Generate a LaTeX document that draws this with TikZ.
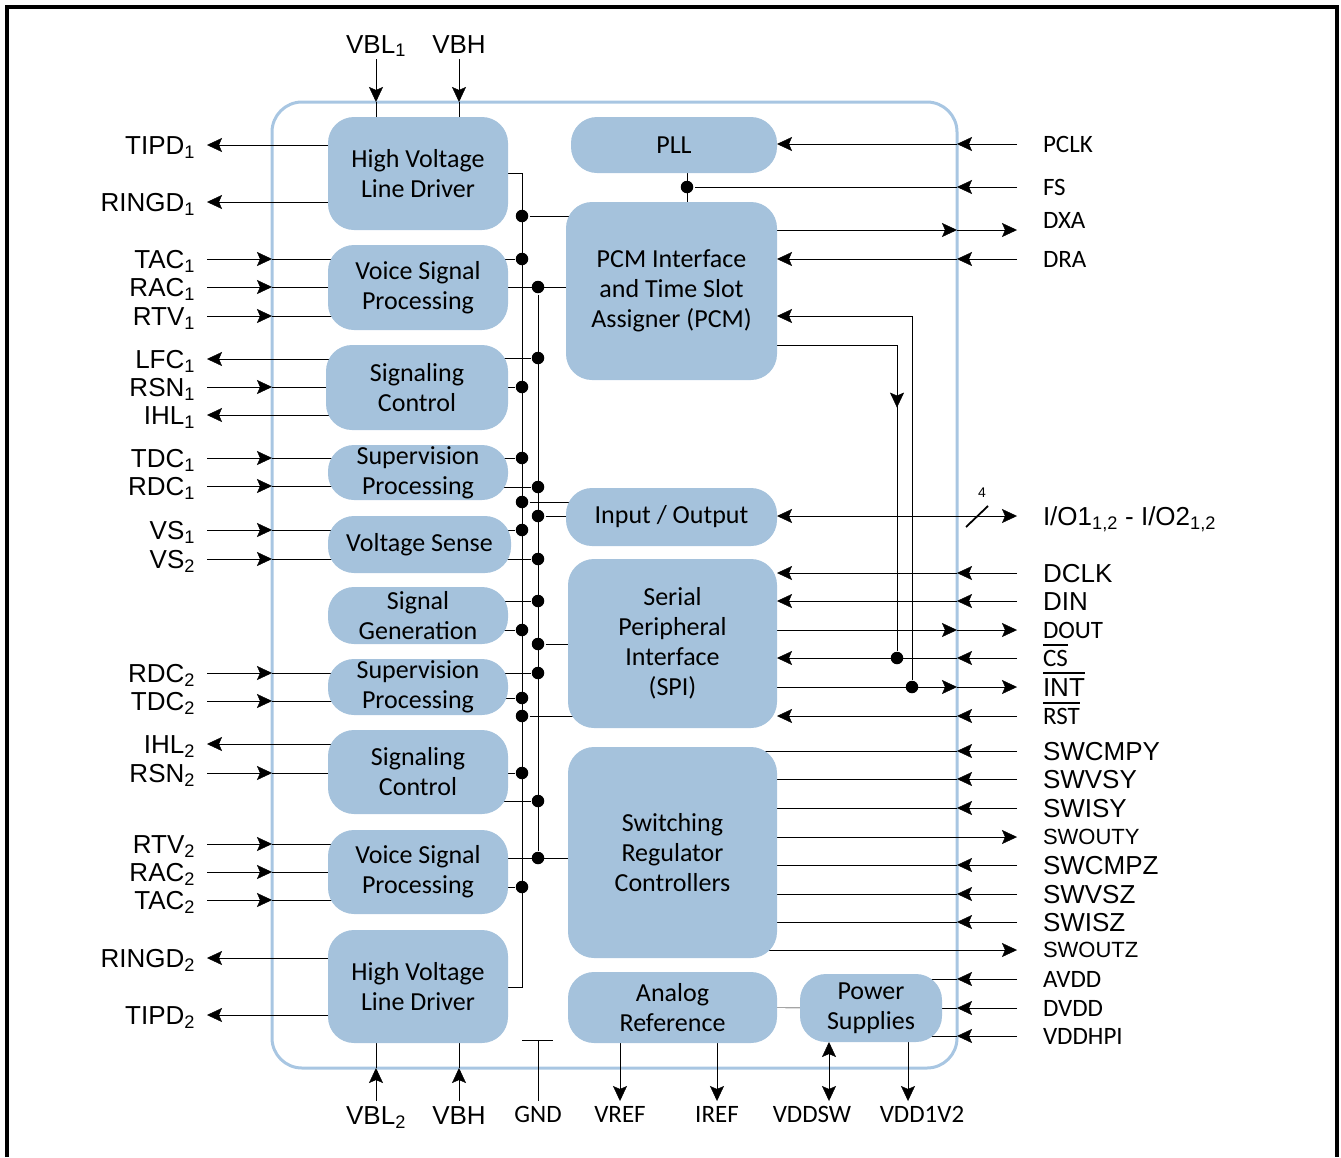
\documentclass[tikz,border=0pt]{standalone}
\usepackage{fontspec}
\setmainfont{Carlito}
\newfontfamily\arialfont{Liberation Sans}
\usetikzlibrary{arrows.meta,backgrounds,calc}
\definecolor{blkblue}{RGB}{165,194,220}
\definecolor{chipblue}{RGB}{168,198,226}
\newcommand{\ovl}[1]{\leavevmode\vbox{\hrule height 2pt\kern 4pt\hbox{#1}}}

\begin{document}
\begin{tikzpicture}[x=1pt,y=-1pt,line width=2.5pt,
        blk/.style={fill=blkblue, rounded corners=26pt, align=center, inner sep=0pt, outer sep=0pt, font=\fontsize{26}{30}\selectfont},
        chip/.style={draw=chipblue, line width=3pt, rounded corners=30pt, inner sep=0pt, outer sep=0pt},
        dot/.style={circle, fill=black, inner sep=0pt, minimum size=12.5pt},
        arr/.style={-{Stealth[length=15pt,width=14pt,inset=3pt]}},
        arrs/.style={{Stealth[length=15pt,width=14pt,inset=3pt]}-{Stealth[length=15pt,width=14pt,inset=3pt]}},
        lft/.style={anchor=east, inner xsep=12pt, inner ysep=0pt, outer sep=0pt, text depth=0pt, text height=18.6pt, font=\arialfont\fontsize{26}{30}\selectfont},
        rgt/.style={anchor=west, inner xsep=26pt, inner ysep=0pt, outer sep=0pt, text depth=0pt},
        upl/.style={anchor=south, inner xsep=0pt, inner ysep=6pt, outer sep=0pt, text depth=0pt, font=\arialfont\fontsize{26}{30}\selectfont},
        bot/.style={anchor=north, inner xsep=0pt, inner ysep=5pt, outer sep=0pt, text depth=0pt},
        cal/.style={font=\fontsize{25}{30}\selectfont, text height=16pt},
        ari/.style={font=\arialfont\fontsize{26}{30}\selectfont, text height=18.6pt},
        swo/.style={font=\arialfont\fontsize{22}{26}\selectfont, text height=15.8pt}]
        \useasboundingbox (0,0) rectangle (1341,1157);
        \draw[line width=3.5pt] (7,1157) -- (7,7) -- (1337,7) -- (1337,1157);

        \node[blk, minimum width=180pt, minimum height=113pt] (hvld1) at (418,173.5) {High Voltage\\Line Driver};
        \node[blk, minimum width=180pt, minimum height=85pt] (vsp1) at (418,287.5) {Voice Signal\\Processing};
        \node[blk, minimum width=182pt, minimum height=85pt] (sc1) at (417,387.5) {Signaling\\Control};
        \node[blk, minimum width=180pt, minimum height=55pt] (sup1) at (418,472.5) {Supervision\\Processing};
        \node[blk, minimum width=183pt, minimum height=57pt] (vs) at (419.5,544.5) {Voltage Sense};
        \node[blk, minimum width=180pt, minimum height=57pt] (sg) at (418,615.5) {Signal\\Generation};
        \node[blk, minimum width=180pt, minimum height=56pt] (sup2) at (418,687) {Supervision\\Processing};
        \node[blk, minimum width=180pt, minimum height=84pt] (sc2) at (418,772) {Signaling\\Control};
        \node[blk, minimum width=180pt, minimum height=84pt] (vsp2) at (418,872) {Voice Signal\\Processing};
        \node[blk, minimum width=180pt, minimum height=113pt] (hvld2) at (418,986.5) {High Voltage\\Line Driver};
        \node[blk, minimum width=206pt, minimum height=56pt] (pll) at (674,145) {PLL};
        \node[blk, minimum width=211pt, minimum height=178pt] (pcm) at (671.5,291) {PCM Interface\\and Time Slot\\Assigner (PCM)};
        \node[blk, minimum width=211pt, minimum height=58pt] (io) at (671.5,517) {Input / Output};
        \node[blk, minimum width=209pt, minimum height=169pt] (spi) at (672.5,643.5) {Serial\\Peripheral\\Interface\\(SPI)};
        \node[blk, minimum width=209pt, minimum height=211pt] (src) at (672.5,852.5) {Switching\\Regulator\\Controllers};
        \node[blk, minimum width=209pt, minimum height=71pt] (aref) at (672.5,1007.5) {Analog\\Reference};
        \node[blk, minimum width=142pt, minimum height=68pt] (ps) at (871,1008) {Power\\Supplies};

        \node[lft] (tipd1) at (207,145) {TIPD\textsubscript{1}};
        \node[lft] (ringd1) at (207,202) {RINGD\textsubscript{1}};
        \node[lft] (tac1) at (207,259) {TAC\textsubscript{1}};
        \node[lft] (rac1) at (207,287) {RAC\textsubscript{1}};
        \node[lft] (rtv1) at (207,316) {RTV\textsubscript{1}};
        \node[lft] (lfc1) at (207,359) {LFC\textsubscript{1}};
        \node[lft] (rsn1) at (207,387) {RSN\textsubscript{1}};
        \node[lft] (ihl1) at (207,415) {IHL\textsubscript{1}};
        \node[lft] (tdc1) at (207,458) {TDC\textsubscript{1}};
        \node[lft] (rdc1) at (207,486) {RDC\textsubscript{1}};
        \node[lft] (vs1) at (207,530) {VS\textsubscript{1}};
        \node[lft] (vs2) at (207,559) {VS\textsubscript{2}};
        \node[lft] (rdc2) at (207,673) {RDC\textsubscript{2}};
        \node[lft] (tdc2) at (207,701) {TDC\textsubscript{2}};
        \node[lft] (ihl2) at (207,744) {IHL\textsubscript{2}};
        \node[lft] (rsn2) at (207,773) {RSN\textsubscript{2}};
        \node[lft] (rtv2) at (207,844) {RTV\textsubscript{2}};
        \node[lft] (rac2) at (207,872) {RAC\textsubscript{2}};
        \node[lft] (tac2) at (207,900) {TAC\textsubscript{2}};
        \node[lft] (ringd2) at (207,958) {RINGD\textsubscript{2}};
        \node[lft] (tipd2) at (207,1015) {TIPD\textsubscript{2}};

        \node[rgt,cal] (pclk) at (1017,144) {PCLK};
        \node[rgt,cal] (fs) at (1017,187) {FS};
        \node[rgt,cal] (dxa) at (1017,220) {DXA};
        \node[rgt,cal] (dra) at (1017,259) {DRA};
        \node[rgt,ari] (iolbl) at (1017,516) {I/O1\textsubscript{1,2} - I/O2\textsubscript{1,2}};
        \node[rgt,ari] (dclk) at (1017,573) {DCLK};
        \node[rgt,ari] (din) at (1017,601) {DIN};
        \node[rgt,cal] (dout) at (1017,630) {DOUT};
        \node[rgt,cal] (cs) at (1017,658) {\ovl{CS}};
        \node[rgt,ari] (int) at (1017,687) {\ovl{INT}};
        \node[rgt,cal] (rst) at (1017,716) {\ovl{RST}};
        \node[rgt,ari] (swcmpy) at (1017,751) {SWCMPY};
        \node[rgt,ari] (swvsy) at (1017,779) {SWVSY};
        \node[rgt,ari] (swisy) at (1017,808) {SWISY};
        \node[rgt,swo] (swouty) at (1017,837) {SWOUTY};
        \node[rgt,ari] (swcmpz) at (1017,865) {SWCMPZ};
        \node[rgt,ari] (swvsz) at (1017,894) {SWVSZ};
        \node[rgt,ari] (swisz) at (1017,922) {SWISZ};
        \node[rgt,swo] (swoutz) at (1017,950) {SWOUTZ};
        \node[rgt,cal] (avdd) at (1017,979) {AVDD};
        \node[rgt,cal] (dvdd) at (1017,1008) {DVDD};
        \node[rgt,cal] (vddhpi) at (1017,1036) {VDDHPI};

        \node[upl] (vbl1) at (376,59) {VBL\textsubscript{1}};
        \node[upl] (vbh1) at (459,59) {VBH};
        \node[bot,ari] (vbl2) at (376,1101) {VBL\textsubscript{2}};
        \node[bot,ari] (vbh2) at (459,1101) {VBH};
        \node[bot,cal] (gnd) at (538,1101) {GND};
        \node[bot,cal] (vref) at (620,1101) {VREF};
        \node[bot,cal] (iref) at (717,1101) {IREF};
        \node[bot,cal] (vddsw) at (812,1101) {VDDSW};
        \node[bot,cal] (vdd1v2) at (922,1101) {VDD1V2};
        \node[font=\arialfont\fontsize{14}{14}\selectfont, inner sep=0pt] (bw) at (982,493) {4};

        \node[dot] (j1) at (522,216) {};
        \node[dot] (j2) at (522,259) {};
        \node[dot] (j3) at (538,287) {};
        \node[dot] (j4) at (538,358) {};
        \node[dot] (j5) at (522,387) {};
        \node[dot] (j6) at (522,458) {};
        \node[dot] (j7) at (538,487) {};
        \node[dot] (j8) at (522,502) {};
        \node[dot] (j9) at (538,516) {};
        \node[dot] (j10) at (522,530) {};
        \node[dot] (j11) at (538,559) {};
        \node[dot] (j12) at (538,601) {};
        \node[dot] (j13) at (522,630) {};
        \node[dot] (j14) at (538,644) {};
        \node[dot] (j15) at (538,673) {};
        \node[dot] (j16) at (522,698) {};
        \node[dot] (j17) at (522,716) {};
        \node[dot] (j18) at (522,773) {};
        \node[dot] (j19) at (538,801) {};
        \node[dot] (j20) at (538,858) {};
        \node[dot] (j21) at (522,887) {};
        \node[dot] (fsdot) at (687,187) {};
        \node[dot] (csdot) at (897,658) {};
        \node[dot] (intdot) at (912,687) {};

        \coordinate (b1top) at (522,173);
        \coordinate (b1bot) at (522,987);
        \coordinate (dxaend) at (1017,230);
        \coordinate (pcmout) at (897,345);
        \coordinate (pcmin) at (912,316);
        \coordinate (slash) at (977,516);
        \coordinate (gndtop) at (538,1040);
        \coordinate (vddswend) at (829,1101);
        \coordinate (vddend) at (908,1101);

        \begin{pgfonlayer}{background}
        \node[chip, minimum width=685pt, minimum height=966pt] (chip) at (614.5,585) {};

        \draw[arr] (hvld1 |- tipd1) -- (tipd1.east);
        \draw[arr] (hvld1 |- ringd1) -- (ringd1.east);
        \draw[arr] (tac1.east) -- (chip.west |- tac1);
        \draw (chip.west |- tac1) -- (vsp1 |- tac1);
        \draw[arr] (rac1.east) -- (chip.west |- rac1);
        \draw (chip.west |- rac1) -- (vsp1 |- rac1);
        \draw[arr] (rtv1.east) -- (chip.west |- rtv1);
        \draw (chip.west |- rtv1) -- (vsp1 |- rtv1);
        \draw[arr] (sc1 |- lfc1) -- (lfc1.east);
        \draw[arr] (rsn1.east) -- (chip.west |- rsn1);
        \draw (chip.west |- rsn1) -- (sc1 |- rsn1);
        \draw[arr] (sc1 |- ihl1) -- (ihl1.east);
        \draw[arr] (tdc1.east) -- (chip.west |- tdc1);
        \draw (chip.west |- tdc1) -- (sup1 |- tdc1);
        \draw[arr] (rdc1.east) -- (chip.west |- rdc1);
        \draw (chip.west |- rdc1) -- (sup1 |- rdc1);
        \draw[arr] (vs1.east) -- (chip.west |- vs1);
        \draw (chip.west |- vs1) -- (vs |- vs1);
        \draw[arr] (vs2.east) -- (chip.west |- vs2);
        \draw (chip.west |- vs2) -- (vs |- vs2);
        \draw[arr] (rdc2.east) -- (chip.west |- rdc2);
        \draw (chip.west |- rdc2) -- (sup2 |- rdc2);
        \draw[arr] (tdc2.east) -- (chip.west |- tdc2);
        \draw (chip.west |- tdc2) -- (sup2 |- tdc2);
        \draw[arr] (sc2 |- ihl2) -- (ihl2.east);
        \draw[arr] (rsn2.east) -- (chip.west |- rsn2);
        \draw (chip.west |- rsn2) -- (sc2 |- rsn2);
        \draw[arr] (rtv2.east) -- (chip.west |- rtv2);
        \draw (chip.west |- rtv2) -- (vsp2 |- rtv2);
        \draw[arr] (rac2.east) -- (chip.west |- rac2);
        \draw (chip.west |- rac2) -- (vsp2 |- rac2);
        \draw[arr] (tac2.east) -- (chip.west |- tac2);
        \draw (chip.west |- tac2) -- (vsp2 |- tac2);
        \draw[arr] (hvld2 |- ringd2) -- (ringd2.east);
        \draw[arr] (hvld2 |- tipd2) -- (tipd2.east);

        \draw (hvld1 |- b1top) -- (b1top) -- (b1bot) -- (hvld2 |- b1bot);
        \draw (j3) -- (j20);
        \draw (j1) -- (pcm |- j1);
        \draw (vsp1 |- j2) -- (j2);
        \draw (vsp1 |- j3) -- (pcm |- j3);
        \draw (sc1 |- j4) -- (j4);
        \draw (sc1 |- j5) -- (j5);
        \draw (sup1 |- j6) -- (j6);
        \draw (sup1 |- j7) -- (j7);
        \draw (j8) -- (io |- j8);
        \draw (j9) -- (io |- j9);
        \draw (vs |- j10) -- (j10);
        \draw (vs |- j11) -- (j11);
        \draw (sg |- j12) -- (j12);
        \draw (sg |- j13) -- (j13);
        \draw (j14) -- (spi |- j14);
        \draw (sup2 |- j15) -- (j15);
        \draw (sup2 |- j16) -- (j16);
        \draw (j17) -- (spi |- j17);
        \draw (sc2 |- j18) -- (j18);
        \draw (sc2 |- j19) -- (j19);
        \draw (vsp2 |- j20) -- (src |- j20);
        \draw (vsp2 |- j21) -- (j21);

        \draw[arr] (vbl1.south) -- (vbl1 |- chip.north);
        \draw (vbl1 |- chip.north) -- (vbl1 |- hvld1);
        \draw[arr] (vbh1.south) -- (vbh1 |- chip.north);
        \draw (vbh1 |- chip.north) -- (vbh1 |- hvld1);
        \draw[arr] (vbl2.north) -- (vbl2 |- chip.south);
        \draw (vbl2 |- chip.south) -- (vbl2 |- hvld2);
        \draw[arr] (vbh2.north) -- (vbh2 |- chip.south);
        \draw (vbh2 |- chip.south) -- (vbh2 |- hvld2);
        \draw (gnd.north) -- (gndtop);
        \draw ([xshift=-16pt]gndtop) -- ([xshift=15pt]gndtop);
        \draw[arr] (vref |- aref) -- (vref.north);
        \draw[arr] (iref |- aref) -- (iref.north);
        \draw[arrs] (vddswend |- ps.south) -- (vddswend);
        \draw[arr] (vddend |- ps) -- (vddend);
        \draw (aref) -- (ps);

        \draw[arr] (pclk.west) -- (chip.east |- pclk);
        \draw[arr] (chip.east |- pclk) -- (pll.east |- pclk);
        \draw[arr] (fs.west) -- (chip.east |- fs);
        \draw (chip.east |- fs) -- (fsdot);
        \draw (fsdot |- pll) -- (fsdot |- pcm);
        \draw[arr] (pcm |- dxaend) -- (chip.east |- dxaend);
        \draw[arr] (chip.east |- dxaend) -- (dxaend);
        \draw[arr] (dra.west) -- (chip.east |- dra);
        \draw[arr] (chip.east |- dra) -- (pcm.east |- dra);
        \draw (pcm |- pcmout) -- (pcmout) -- (csdot);
        \draw[arr] (pcmout) -- ($(pcmout)!0.2!(csdot)$);
        \draw (intdot) -- (pcmin);
        \draw[arr] (pcmin) -- (pcm.east |- pcmin);
        \draw[arrs] (io.east |- iolbl) -- (iolbl.west);
        \draw[line width=1.8pt] ([shift={(-11,11)}]slash) -- ([shift={(11,-10)}]slash);
        \draw[arr] (dclk.west) -- (chip.east |- dclk);
        \draw[arr] (chip.east |- dclk) -- (spi.east |- dclk);
        \draw[arr] (din.west) -- (chip.east |- din);
        \draw[arr] (chip.east |- din) -- (spi.east |- din);
        \draw[arr] (spi |- dout) -- (chip.east |- dout);
        \draw[arr] (chip.east |- dout) -- (dout.west);
        \draw[arr] (cs.west) -- (chip.east |- cs);
        \draw[arr] (chip.east |- cs) -- (spi.east |- cs);
        \draw[arr] (spi |- int) -- (chip.east |- int);
        \draw[arr] (chip.east |- int) -- (int.west);
        \draw[arr] (rst.west) -- (chip.east |- rst);
        \draw[arr] (chip.east |- rst) -- (spi.east |- rst);
        \draw[arr] (swcmpy.west) -- (chip.east |- swcmpy);
        \draw (chip.east |- swcmpy) -- (src |- swcmpy);
        \draw[arr] (swvsy.west) -- (chip.east |- swvsy);
        \draw (chip.east |- swvsy) -- (src |- swvsy);
        \draw[arr] (swisy.west) -- (chip.east |- swisy);
        \draw (chip.east |- swisy) -- (src |- swisy);
        \draw[arr] (src |- swouty) -- (swouty.west);
        \draw[arr] (swcmpz.west) -- (chip.east |- swcmpz);
        \draw (chip.east |- swcmpz) -- (src |- swcmpz);
        \draw[arr] (swvsz.west) -- (chip.east |- swvsz);
        \draw (chip.east |- swvsz) -- (src |- swvsz);
        \draw[arr] (swisz.west) -- (chip.east |- swisz);
        \draw (chip.east |- swisz) -- (src |- swisz);
        \draw[arr] (src |- swoutz) -- (swoutz.west);
        \draw[arr] (avdd.west) -- (chip.east |- avdd);
        \draw (chip.east |- avdd) -- (ps |- avdd);
        \draw[arr] (dvdd.west) -- (chip.east |- dvdd);
        \draw (chip.east |- dvdd) -- (ps |- dvdd);
        \draw[arr] (vddhpi.west) -- (chip.east |- vddhpi);
        \draw (chip.east |- vddhpi) -- (ps |- vddhpi);
        \end{pgfonlayer}
\end{tikzpicture}
\end{document}
